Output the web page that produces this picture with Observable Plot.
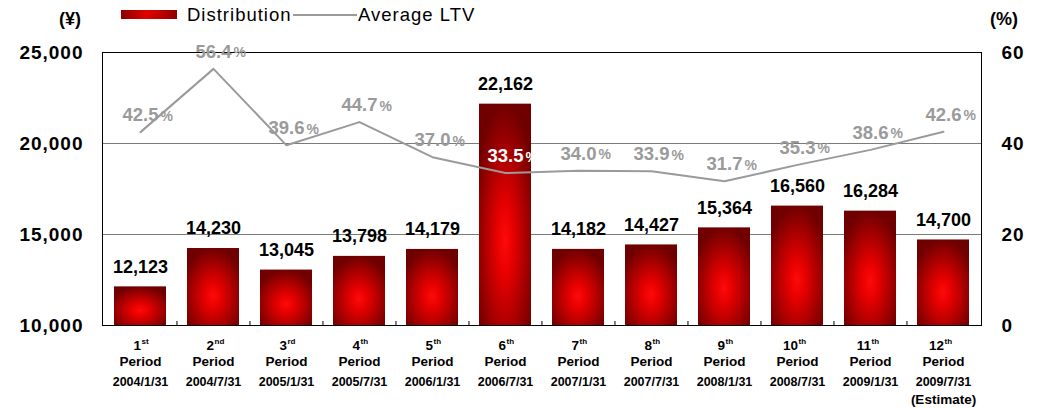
<!DOCTYPE html>
<html><head><meta charset="utf-8">
<script src="https://cdn.jsdelivr.net/npm/d3@7"></script>
<script src="https://cdn.jsdelivr.net/npm/@observablehq/plot@0.6"></script>
<style>
body{margin:0;background:#fff;font-family:"Liberation Sans",Arial,sans-serif;}
#top{position:relative;height:26px;width:1041px;}
#top span,#top div{position:absolute;white-space:nowrap;}
.ax{font-weight:bold;font-size:18px;line-height:20px;top:9px;color:#000;}
.lg{font-size:18.5px;letter-spacing:1px;line-height:20px;top:5px;color:#000;}
.sw{left:121px;top:10px;width:56px;height:9px;background:linear-gradient(to right,#8a0000,#e00000 45%,#b00000 80%,#8a0000);}
.ln{left:293px;top:14px;width:64px;height:2px;background:#9a9a9a;}
g[aria-label="y-axis tick label"] text{font-weight:bold;letter-spacing:1px;}
g[aria-label="bar-value"] text{letter-spacing:1.3px;}
g[aria-label="ltv-value"] text{letter-spacing:1.3px;}
</style></head><body>
<div id="top">
  <span class="ax" style="left:59px">(¥)</span>
  <div class="sw"></div>
  <span class="lg" style="left:187px">Distribution</span>
  <div class="ln"></div>
  <span class="lg" style="left:358px">Average LTV</span>
  <span class="ax" style="left:990px">(%)</span>
</div>
<div id="chart"></div>
<script>
const ordinals = ["1","2","3","4","5","6","7","8","9","10","11","12"];
const suffixes = ["st","nd","rd","th","th","th","th","th","th","th","th","th"];
const dates = ["2004/1/31","2004/7/31","2005/1/31","2005/7/31","2006/1/31","2006/7/31","2007/1/31","2007/7/31","2008/1/31","2008/7/31","2009/1/31","2009/7/31"];
const notes = ["","","","","","","","","","","","(Estimate)"];
const distribution = [12123,14230,13045,13798,14179,22162,14182,14427,15364,16560,16284,14700];
const ltv = [42.5,56.4,39.6,44.7,37.0,33.5,34.0,33.9,31.7,35.3,38.6,42.6];
const leftTicks = [10000,15000,20000,25000];

const W = 1041, H = 382, mL = 102, mR = 60, mT = 26, mB = 83;
const pIn = 0.29, pOut = 0.16;
const n = dates.length;
const step = (W - mL - mR) / (n - pIn + 2 * pOut);
const yMin = 10000, yMax = 25000, pctMax = 60;
const toYen = p => yMin + p / pctMax * (yMax - yMin);
const pxPerYen = (H - mT - mB) / (yMax - yMin);
const labelLift = 17;

const rows = dates.map((d, i) => ({
  date: d, ord: ordinals[i], suf: suffixes[i], note: notes[i],
  dist: distribution[i], ltv: ltv[i], ltvYen: toYen(ltv[i])
}));
rows.forEach(r => { r.inBar = r.ltvYen + labelLift / pxPerYen < r.dist; });

const ns = "http://www.w3.org/2000/svg";
function defs() {
  const g = document.createElementNS(ns, "defs");
  const rg = document.createElementNS(ns, "radialGradient");
  rg.setAttribute("id", "barGrad");
  rg.setAttribute("cx", "0.5"); rg.setAttribute("cy", "0.62"); rg.setAttribute("r", "0.62");
  [["0%", "#ff0a0a"], ["25%", "#e80000"], ["65%", "#a80000"], ["100%", "#700000"]].forEach(([o, c]) => {
    const s = document.createElementNS(ns, "stop");
    s.setAttribute("offset", o); s.setAttribute("stop-color", c);
    rg.appendChild(s);
  });
  g.appendChild(rg);
  return g;
}

const bold = {fontWeight: "bold", fill: "#000"};
const chart = Plot.plot({
  width: W, height: H,
  marginLeft: mL, marginRight: mR, marginTop: mT, marginBottom: mB,
  style: {fontFamily: "'Liberation Sans', Arial, sans-serif", background: "#fff", overflow: "visible"},
  x: {type: "band", domain: dates, paddingInner: pIn, paddingOuter: pOut, axis: null},
  y: {domain: [yMin, yMax]},
  color: {type: "identity"},
  marks: [
    defs,
    Plot.ruleY([15000, 20000], {stroke: "#7a7a7a", strokeWidth: 1}),
    Plot.barY(rows, {x: "date", y1: yMin, y2: "dist", fill: "url(#barGrad)"}),
    Plot.frame({stroke: "#000", strokeWidth: 1}),
    Plot.ruleX(rows.slice(1), {x: "date", y1: yMin, y2: yMin + 4 / pxPerYen, dx: -step / 2, stroke: "#000"}),
    Plot.line(rows, {x: "date", y: "ltvYen", stroke: "#9a9a9a", strokeWidth: 2}),
    Plot.text(rows, {x: "date", y: "dist", text: d => d3.format(",")(d.dist), dy: -20, fontSize: 18, ...bold, ariaLabel: "bar-value"}),
    Plot.text(rows, {x: "date", y: "ltvYen", text: d => d.ltv.toFixed(1), textAnchor: "end", dx: 18, dy: -labelLift, fontSize: 18.5, fontWeight: "bold", fill: d => d.inBar ? "#ffffff" : "#9a9a9a", ariaLabel: "ltv-value"}),
    Plot.text(rows, {x: "date", y: "ltvYen", text: () => "%", textAnchor: "start", dx: 20, dy: -labelLift + 1, fontSize: 14, fontWeight: "bold", fill: d => d.inBar ? "#ffffff" : "#9a9a9a"}),
    Plot.text(rows, {x: "date", y: yMin, text: "ord", textAnchor: "end", dx: 0.5, dy: 20, fontSize: 13.5, ...bold}),
    Plot.text(rows, {x: "date", y: yMin, text: "suf", textAnchor: "start", dx: 1, dy: 16, fontSize: 8, ...bold}),
    Plot.text(rows, {x: "date", y: yMin, text: () => "Period", dy: 36, fontSize: 13.5, ...bold}),
    Plot.text(rows, {x: "date", y: yMin, text: "date", dy: 56, fontSize: 12.5, ...bold}),
    Plot.text(rows, {x: "date", y: yMin, text: "note", dy: 74, fontSize: 13.5, ...bold}),
    Plot.axisY({anchor: "left", ticks: leftTicks, tickFormat: d3.format(","), tickSize: 0, tickPadding: 19, fontSize: 19, label: null}),
    Plot.axisY({anchor: "right", ticks: leftTicks, tickFormat: d => String(Math.round((d - yMin) / (yMax - yMin) * pctMax)), tickSize: 0, tickPadding: 20, fontSize: 19, label: null})
  ]
});
document.getElementById("chart").appendChild(chart);
</script>
</body></html>
